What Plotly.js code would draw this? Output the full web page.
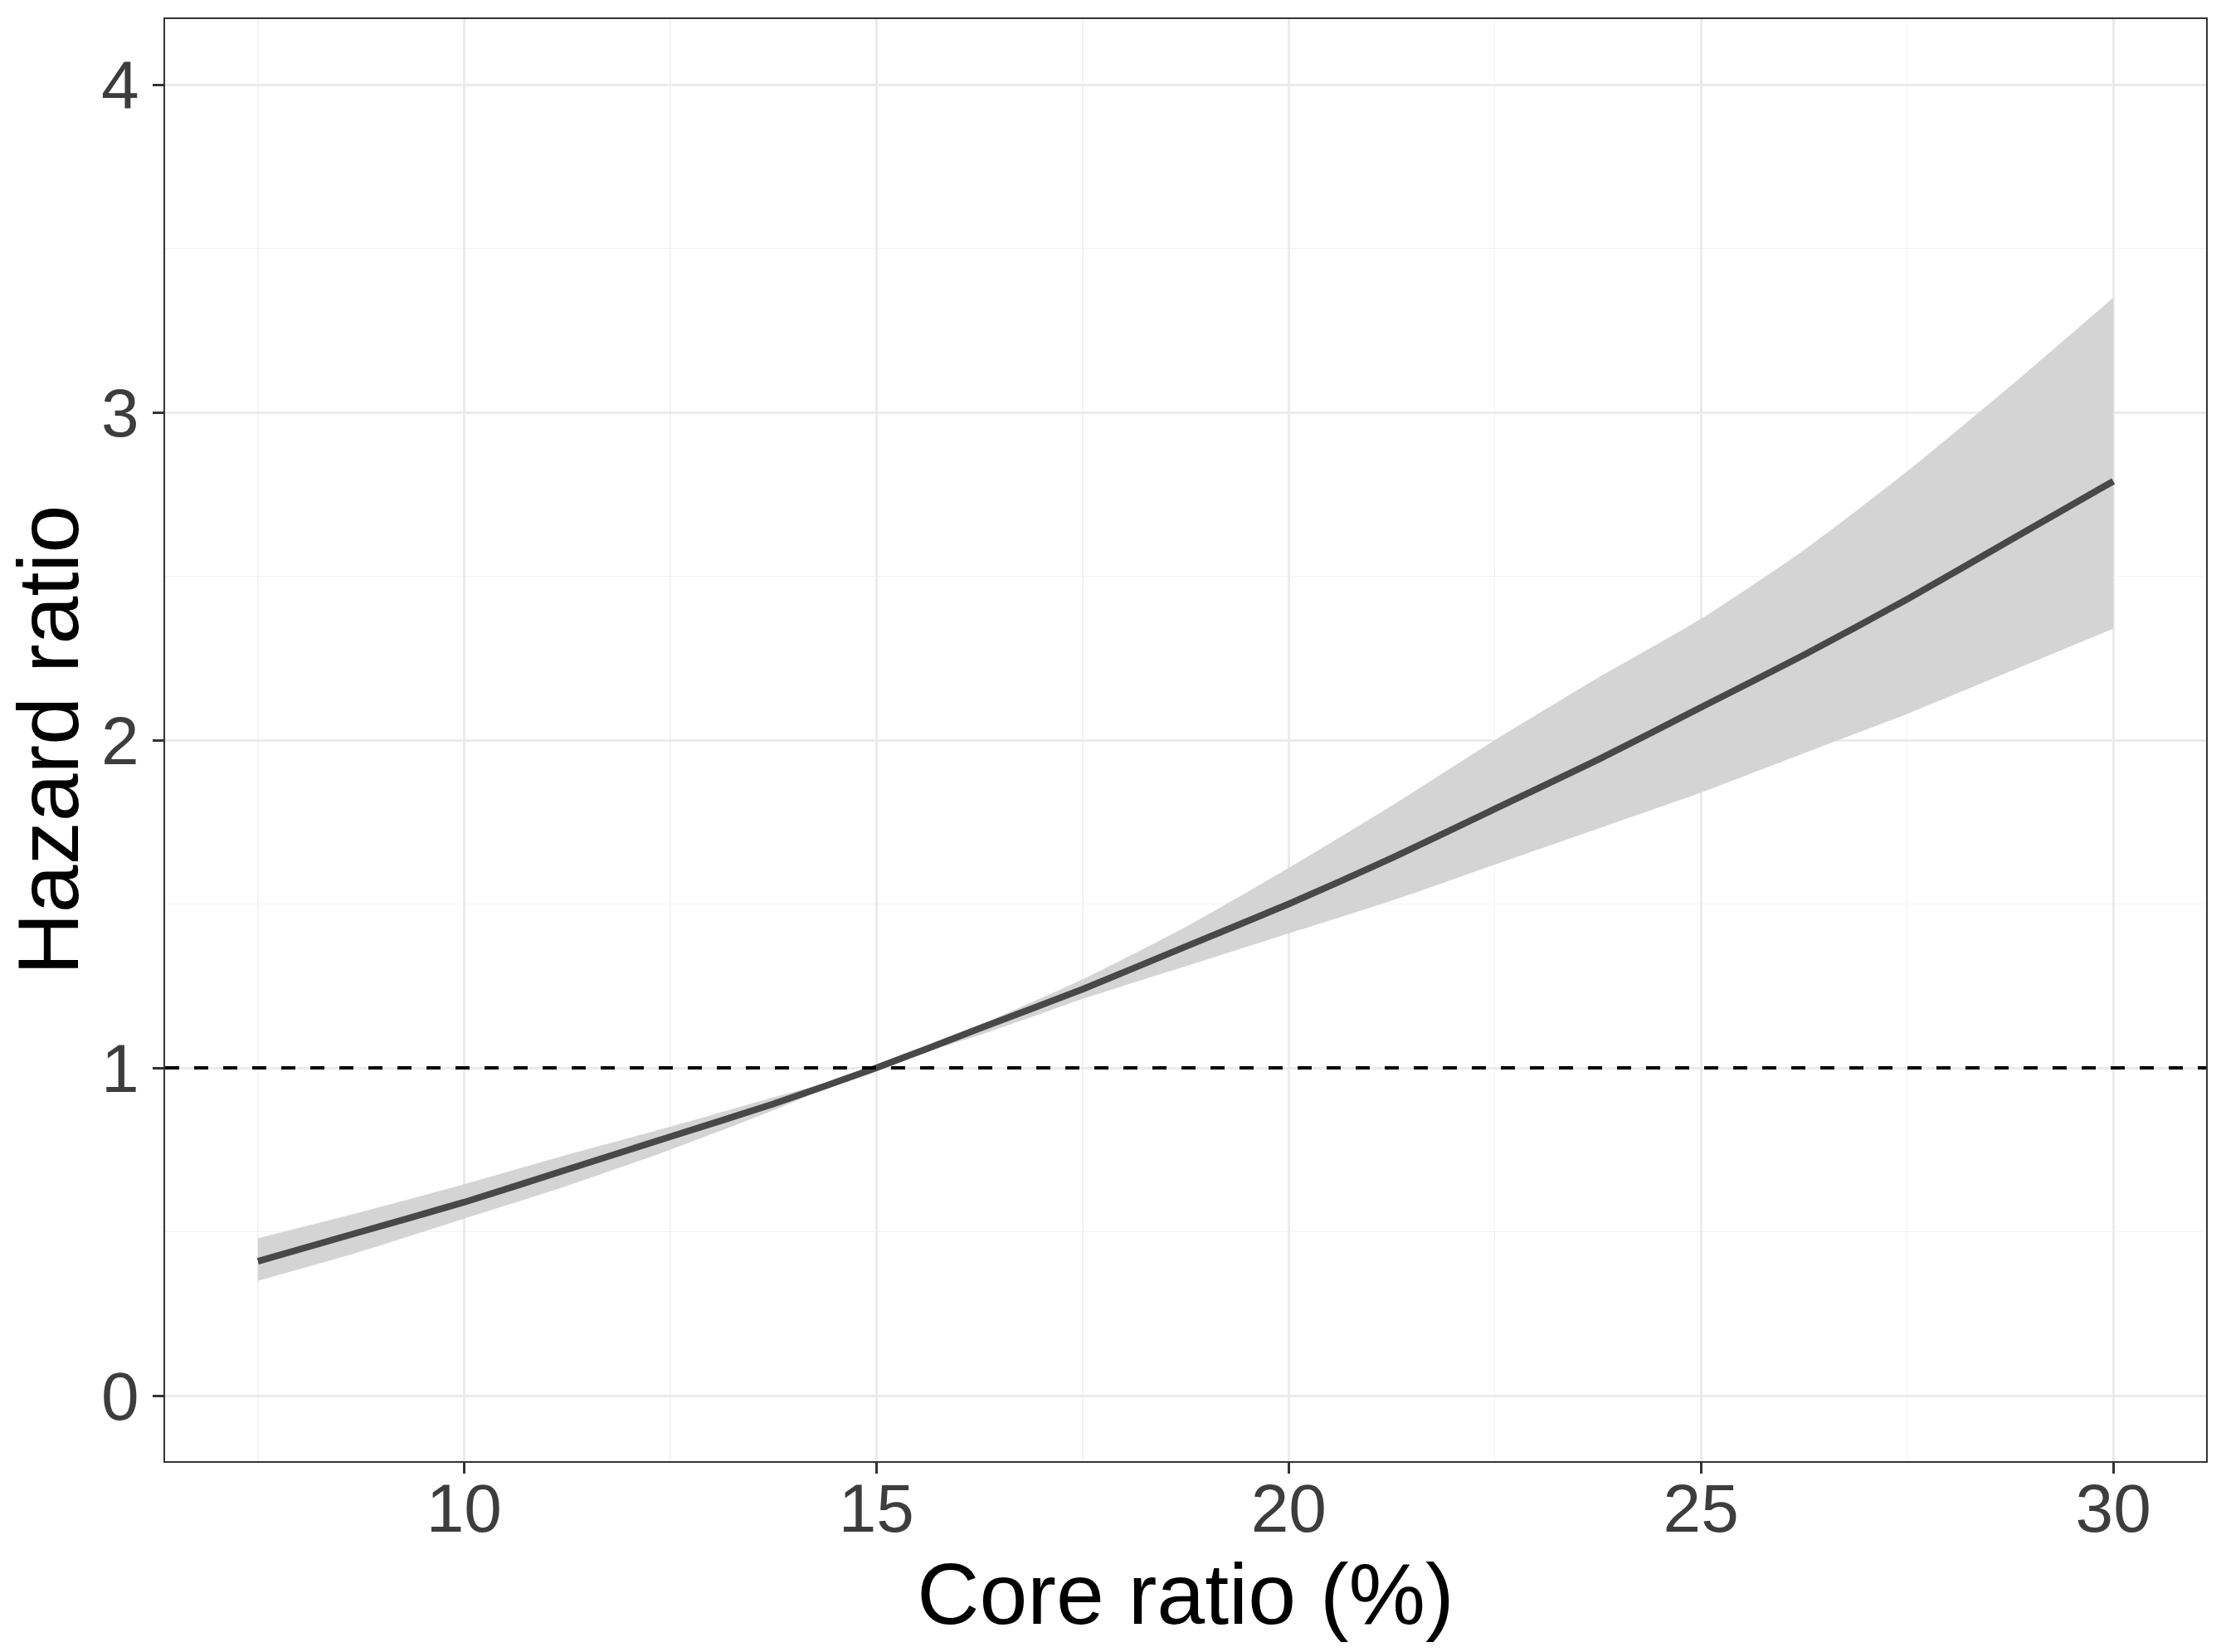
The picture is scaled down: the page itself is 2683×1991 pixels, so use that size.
<!DOCTYPE html>
<html>
<head>
<meta charset="utf-8">
<script src="https://cdn.plot.ly/plotly-3.0.1.min.js"></script>
<style>
  html, body { margin: 0; padding: 0; background: #ffffff; }
  #chart { width: 2683px; height: 1991px; }
</style>
</head>
<body>
<div id="chart"></div>
<script>
// Core ratio (%) values
const coreRatio = [7.5, 8.75, 10, 11.25, 12.5, 13.75, 15, 16.25, 17.5, 18.75, 20, 21.25, 22.5, 23.75, 25, 26.25, 27.5, 28.75, 30];
// Hazard ratio estimate
const hazardRatio = [0.41, 0.50, 0.59, 0.69, 0.79, 0.89, 1.00, 1.12, 1.24, 1.37, 1.50, 1.64, 1.79, 1.94, 2.10, 2.26, 2.43, 2.61, 2.79];
// 95% CI bounds
const ciUpper = [0.48, 0.56, 0.645, 0.735, 0.82, 0.91, 1.00, 1.13, 1.27, 1.43, 1.61, 1.80, 2.00, 2.19, 2.37, 2.58, 2.82, 3.08, 3.35];
const ciLower = [0.35, 0.44, 0.54, 0.64, 0.75, 0.87, 1.00, 1.10, 1.21, 1.31, 1.41, 1.51, 1.62, 1.73, 1.84, 1.96, 2.08, 2.21, 2.34];
// Reference line value
const referenceHR = 1;
// Tick values
const xTicks = [10, 15, 20, 25, 30];
const yTicks = [0, 1, 2, 3, 4];

const FONT = '"Liberation Sans", Arial, sans-serif';

const traces = [
  {
    x: coreRatio, y: ciLower, type: 'scatter', mode: 'lines',
    line: { width: 0, color: 'rgba(0,0,0,0)', shape: 'spline', smoothing: 0.6 }, hoverinfo: 'skip', showlegend: false
  },
  {
    x: coreRatio, y: ciUpper, type: 'scatter', mode: 'lines', fill: 'tonexty',
    fillcolor: 'rgb(212,212,212)',
    line: { width: 0, color: 'rgba(0,0,0,0)', shape: 'spline', smoothing: 0.6 }, hoverinfo: 'skip', showlegend: false
  },
  {
    x: coreRatio, y: hazardRatio, type: 'scatter', mode: 'lines',
    line: { width: 8, color: '#484848', shape: 'spline', smoothing: 0.6 }, showlegend: false
  }
];

const axisCommon = {
  showline: true, mirror: true, linecolor: '#333333', linewidth: 2,
  ticks: 'outside', ticklen: 13, tickwidth: 3, tickcolor: '#333333',
  showgrid: true, gridcolor: '#ebebeb', gridwidth: 3,
  zeroline: false,
  tickfont: { family: FONT, size: 82, color: '#3d3d3d' }
};

const layout = {
  width: 2683, height: 1991,
  margin: { l: 199, r: 24, t: 23, b: 230 },
  paper_bgcolor: '#ffffff', plot_bgcolor: '#ffffff',
  showlegend: false,
  xaxis: Object.assign({}, axisCommon, {
    range: [6.375, 31.125], tickmode: 'array', tickvals: xTicks, ticktext: xTicks.map(String),
    ticklabelstandoff: -28,
    minor: { dtick: 5, tick0: 7.5, showgrid: true, gridcolor: '#f3f3f3', gridwidth: 1.5, ticks: '' },
    title: { text: 'Core ratio (%)', font: { family: FONT, size: 104, color: '#000000' }, standoff: 17 }
  }),
  yaxis: Object.assign({}, axisCommon, {
    range: [-0.2, 4.2], tickmode: 'array', tickvals: yTicks, ticktext: yTicks.map(String),
    minor: { dtick: 1, tick0: 0.5, showgrid: true, gridcolor: '#f3f3f3', gridwidth: 1.5, ticks: '' },
    title: { text: 'Hazard ratio', font: { family: FONT, size: 104, color: '#000000' }, standoff: 22 }
  }),
  shapes: [
    {
      type: 'line', xref: 'paper', yref: 'y', x0: 0, x1: 1, y0: referenceHR, y1: referenceHR,
      line: { color: '#000000', width: 4, dash: '17px,18px' }, layer: 'above'
    }
  ]
};

Plotly.newPlot('chart', traces, layout, { displayModeBar: false, staticPlot: true });
</script>
</body>
</html>
